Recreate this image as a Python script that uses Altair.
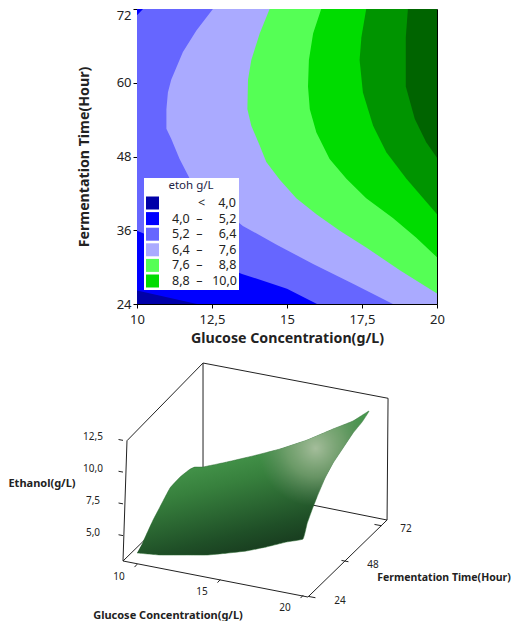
import altair as alt
import pandas as pd

FONT = "Noto Sans"
N = "\u00a0"

# ---------- contour panel: each level boundary ----------
BANDS = ["\u200b" + N * 8 + "<" + N * 4 + "4,0" + N * 2,
         "4,0" + N * 2 + "\u2013" + N * 5 + "5,2" + N * 2,
         "5,2" + N * 2 + "\u2013" + N * 5 + "6,4" + N * 2,
         "6,4" + N * 2 + "\u2013" + N * 5 + "7,6" + N * 2,
         "7,6" + N * 2 + "\u2013" + N * 5 + "8,8" + N * 2,
         "8,8" + N * 2 + "\u2013" + N * 3 + "10,0" + N * 2,
         "10,0 \u2013 11,2", "> 11,2"]
COLORS = ["#0000A8", "#0000FF", "#6666FF", "#AAAAFF", "#55FF55", "#00DC00", "#009400", "#006400"]

L_T = [
    [24, 72],
    [24, 26.2, 72],
    [24, 26.5, 28.9, 35.9, 71, 72],
    [24, 27.3, 30.5, 33.7, 36.7, 40.2, 44.4, 47.6, 50.9, 52.5, 55.7, 58.4, 60.5, 65, 68.5, 72],
    [24, 25.7, 29.5, 33.2, 35.9, 38.6, 41.2, 44.2, 47.1, 49.8, 53, 55.7, 60.5, 63.7, 68, 72],
    [31.6, 34.8, 38, 41.2, 44.4, 47.6, 51.9, 55.7, 59.4, 63.7, 68, 72],
    [38.6, 44.4, 48.7, 53, 58.4, 63.7, 67.4, 72],
    [47.8, 50.3, 54.1, 59.4, 67.4, 72],
]
L_G = [
    [10, 10],
    [12, 10, 10],
    [16, 15, 13.5, 10, 10, 10.2],
    [18.53, 17.2, 15.87, 14.64, 13.53, 12.64, 11.76, 11.42, 11.14, 10.98, 10.98, 11.03, 11.14, 11.53, 11.98, 12.53],
    [20, 20, 18.76, 17.64, 16.76, 15.98, 15.31, 14.76, 14.31, 14.09, 13.81, 13.68, 13.7, 13.81, 14.09, 14.42],
    [20, 19.31, 18.53, 17.64, 16.98, 16.42, 15.98, 15.76, 15.7, 15.73, 15.87, 16.14],
    [20, 18.98, 18.31, 17.87, 17.53, 17.42, 17.48, 17.64],
    [20, 19.64, 19.26, 18.96, 18.96, 19.03],
]

# ---------- surface edges: (glucose, time, ethanol) ----------
NEAR_G = [10, 11.39, 13, 14.2, 15.4, 16.6, 17.8, 19, 20]
NEAR_Z = [3.9, 4.08, 4.47, 4.76, 5.2, 5.67, 6.28, 6.96, 7.44]
RIGHT_T = [27, 30.5, 34.2, 40, 45.8, 53.1, 60.4, 66.9, 72]
RIGHT_Z = [8.3, 8.95, 9.55, 10.35, 10.84, 11.17, 11.49, 11.58, 11.85]
BACK_G = [19.04, 17.83, 16.27, 14.64, 13, 11.45, 10]
BACK_Z = [10.83, 9.9, 8.65, 7.55, 6.6, 5.75, 5.0]
LEFT_T = [66, 62.4, 55.3, 48, 40.7, 35.6, 28.4]
LEFT_Z = [5.7, 5.95, 6.18, 6.18, 5.55, 5.1, 4.25]

BOX = {"FL0": (9.12, 24.45, 3), "FR0": (20.33, 23.6, 3), "BR0": (20.77, 75.84, 3), "BL0": (9.56, 77.33, 3),
       "FL1": (9.36, 24.45, 12.53), "BL1": (9.56, 77.33, 12.45), "BR1": (20.83, 75.84, 12.6)}
EDGES = [("FL0", "FR0"), ("FR0", "BR0"), ("BR0", "BL0"), ("BL0", "FL0"), ("FL0", "FL1"),
         ("BL0", "BL1"), ("BR0", "BR1"), ("FL1", "BL1"), ("BL1", "BR1")]
G_TICKS = [10, 15, 20]
T_TICKS = [24, 48, 72]
Z_TICKS = [5, 7.5, 10, 12.5]
G_LABELS = ["10", "15", "20"]
T_LABELS = ["24", "48", "72"]
Z_LABELS = ["5,0", "7,5", "10,0", "12,5"]


def project(g, t, z):
    a, b = (g - 10) / 10, (t - 24) / 48
    return 137 + 166 * a + 66 * b, 564.4 + 31 * a - 72 * b - (z - 3) * 12.7


def rows(pts, **extra):
    out = []
    for i, (g, t, z) in enumerate(pts):
        px, py = project(g, t, z)
        out.append({"px": px, "py": py, "i": i, **extra})
    return pd.DataFrame(out)


# ---------- top panel ----------
rec = []
for k, band in enumerate(BANDS):
    for t, g in zip(L_T[k], L_G[k]):
        rec.append({"T": t, "g": g, "g2": 20, "band": band, "k": k})
contour = pd.DataFrame(rec)

comma = "replace(format(datum.value,'~g'),'.',',')"
top = alt.Chart(contour).mark_area(orient="horizontal", clip=True, interpolate="linear").encode(
    x=alt.X("g:Q", scale=alt.Scale(domain=[10, 20], nice=False, zero=False),
            axis=alt.Axis(values=[10, 12.5, 15, 17.5, 20], labelExpr=comma, grid=False,
                          title="Glucose Concentration(g/L)", titleFontWeight="bold", titleFontSize=14.2,
                          titlePadding=5, labelFontSize=13, labelPadding=5, tickColor="black", domainColor="black",
                          labelColor="#222222", titleColor="#222222", tickSize=4, labelFlush=False,
                          labelOverlap=False)),
    x2="g2:Q",
    y=alt.Y("T:Q", scale=alt.Scale(domain=[24, 72], nice=False, zero=False),
            axis=alt.Axis(values=[24, 36, 48, 60, 72], grid=False,
                          title="Fermentation Time(Hour)", titleFontWeight="bold", titleFontSize=14.2,
                          titlePadding=25, labelFontSize=13, tickColor="black", domainColor="black",
                          labelColor="#222222", titleColor="#222222", tickSize=4, labelOverlap=False,
                          labelBaseline={"condition": {"test": "datum.value == 72", "value": "top"},
                                         "value": "middle"})),
    color=alt.Color("band:N", scale=alt.Scale(domain=BANDS, range=COLORS),
                    legend=alt.Legend(orient="none", legendX=7, legendY=169, values=BANDS[:6],
                                      title="etoh g/L", titleFontWeight="normal", titleFontSize=11.5,
                                      titleColor="#222244", titleAnchor="middle", labelFontSize=12.5,
                                      labelColor="#222222", symbolType="square", symbolSize=169,
                                      symbolStrokeWidth=0, rowPadding=2.6, fillColor="white",
                                      padding=2, labelOffset=13, labelLimit=120)),
    order=alt.Order("k:Q"),
).properties(width=300, height=295, view=alt.ViewConfig(stroke="black", strokeWidth=1))

# ---------- bottom panel ----------
X3 = alt.X("px:Q", axis=None, scale=alt.Scale(domain=[137, 437], nice=False, zero=False))
Y3 = alt.Y("py:Q", axis=None, scale=alt.Scale(domain=[610, 330], nice=False, zero=False))

edge_df = pd.concat([rows([BOX[a], BOX[b]], seg=f"{a}-{b}") for a, b in EDGES])
tick_rows = []
for g in G_TICKS:
    tick_rows.append(rows([(g, 24.2, 3), (g, 22.2, 3)], seg=f"g{g}"))
for t in T_TICKS:
    tick_rows.append(rows([(20.33, t, 3), (20.75, t, 3)], seg=f"t{t}"))
for z in Z_TICKS:
    tick_rows.append(rows([(9.12, 24.45, z), (8.85, 24.45, z)], seg=f"z{z}"))
edge_df = pd.concat([edge_df] + tick_rows)

lines = alt.Chart(edge_df).mark_line(color="#222222", strokeWidth=1).encode(
    x=X3, y=Y3, detail="seg:N", order="i:Q")

outline = ([(g, 24, z) for g, z in zip(NEAR_G, NEAR_Z)]
           + [(20, t, z) for t, z in zip(RIGHT_T, RIGHT_Z)]
           + [(g, 72, z) for g, z in zip(BACK_G, BACK_Z)]
           + [(10, t, z) for t, z in zip(LEFT_T, LEFT_Z)])
surf_df = rows(outline)

base_fill = alt.Gradient(gradient="linear", x1=0.72, y1=1, x2=0.42, y2=0.25, stops=[
    alt.GradientStop(offset=0.0, color="#14301A"),
    alt.GradientStop(offset=0.3, color="#1F4F27"),
    alt.GradientStop(offset=0.72, color="#37803D"),
    alt.GradientStop(offset=1.0, color="#47994D"),
])
glow_fill = alt.RadialGradient(gradient="radial", x1=0.77, y1=0.35, r1=0, x2=0.77, y2=0.35, r2=0.25, stops=[
    alt.GradientStop(offset=0.0, color="rgba(170,192,160,0.95)"),
    alt.GradientStop(offset=0.5, color="rgba(140,170,130,0.6)"),
    alt.GradientStop(offset=1.0, color="rgba(110,140,110,0)"),
])
surface = alt.Chart(surf_df).mark_line(fill=base_fill, stroke="#2A6A30", strokeWidth=0.5,
                                       interpolate="cardinal", tension=0.7).encode(
    x=X3, y=Y3, order="i:Q")
glow = alt.Chart(surf_df).mark_line(fill=glow_fill, strokeWidth=0,
                                    interpolate="cardinal", tension=0.7).encode(
    x=X3, y=Y3, order="i:Q")


def label_layer(pts, texts, dx, dy, size=10, weight="normal", color="#222222"):
    df = rows(pts)
    df["txt"] = texts
    return alt.Chart(df).mark_text(fontSize=size, fontWeight=weight, dx=dx, dy=dy, color=color, font=FONT).encode(
        x=X3, y=Y3, text="txt:N")


lab_g = label_layer([(g, 24, 3) for g in G_TICKS], G_LABELS, -18, 12.5)
lab_t = label_layer([(20, t, 3) for t in T_TICKS], T_LABELS, 37, 6)
lab_z = label_layer([(9.12, 24.45, z) for z in Z_TICKS], Z_LABELS, -30, -3)
tit_z = label_layer([(9.12, 24.45, 7.5)], ["Ethanol(g/L)"], -81, -20, 11, "bold")
tit_g = label_layer([(15, 24, 3)], ["Glucose Concentration(g/L)"], -52, 36, 11, "bold")
tit_t = label_layer([(20, 48, 3)], ["Fermentation Time(Hour)"], 108, 19, 10.5, "bold")

bottom = alt.layer(lines, surface, glow, lab_g, lab_t, lab_z, tit_z, tit_g, tit_t).properties(
    width=300, height=280, view=alt.ViewConfig(stroke=None))

chart = alt.vconcat(top, bottom, spacing=26, bounds="flush").properties(
    padding=0
).configure(font=FONT)

chart.save("out.html", embed_options={"renderer": "svg", "actions": False})
